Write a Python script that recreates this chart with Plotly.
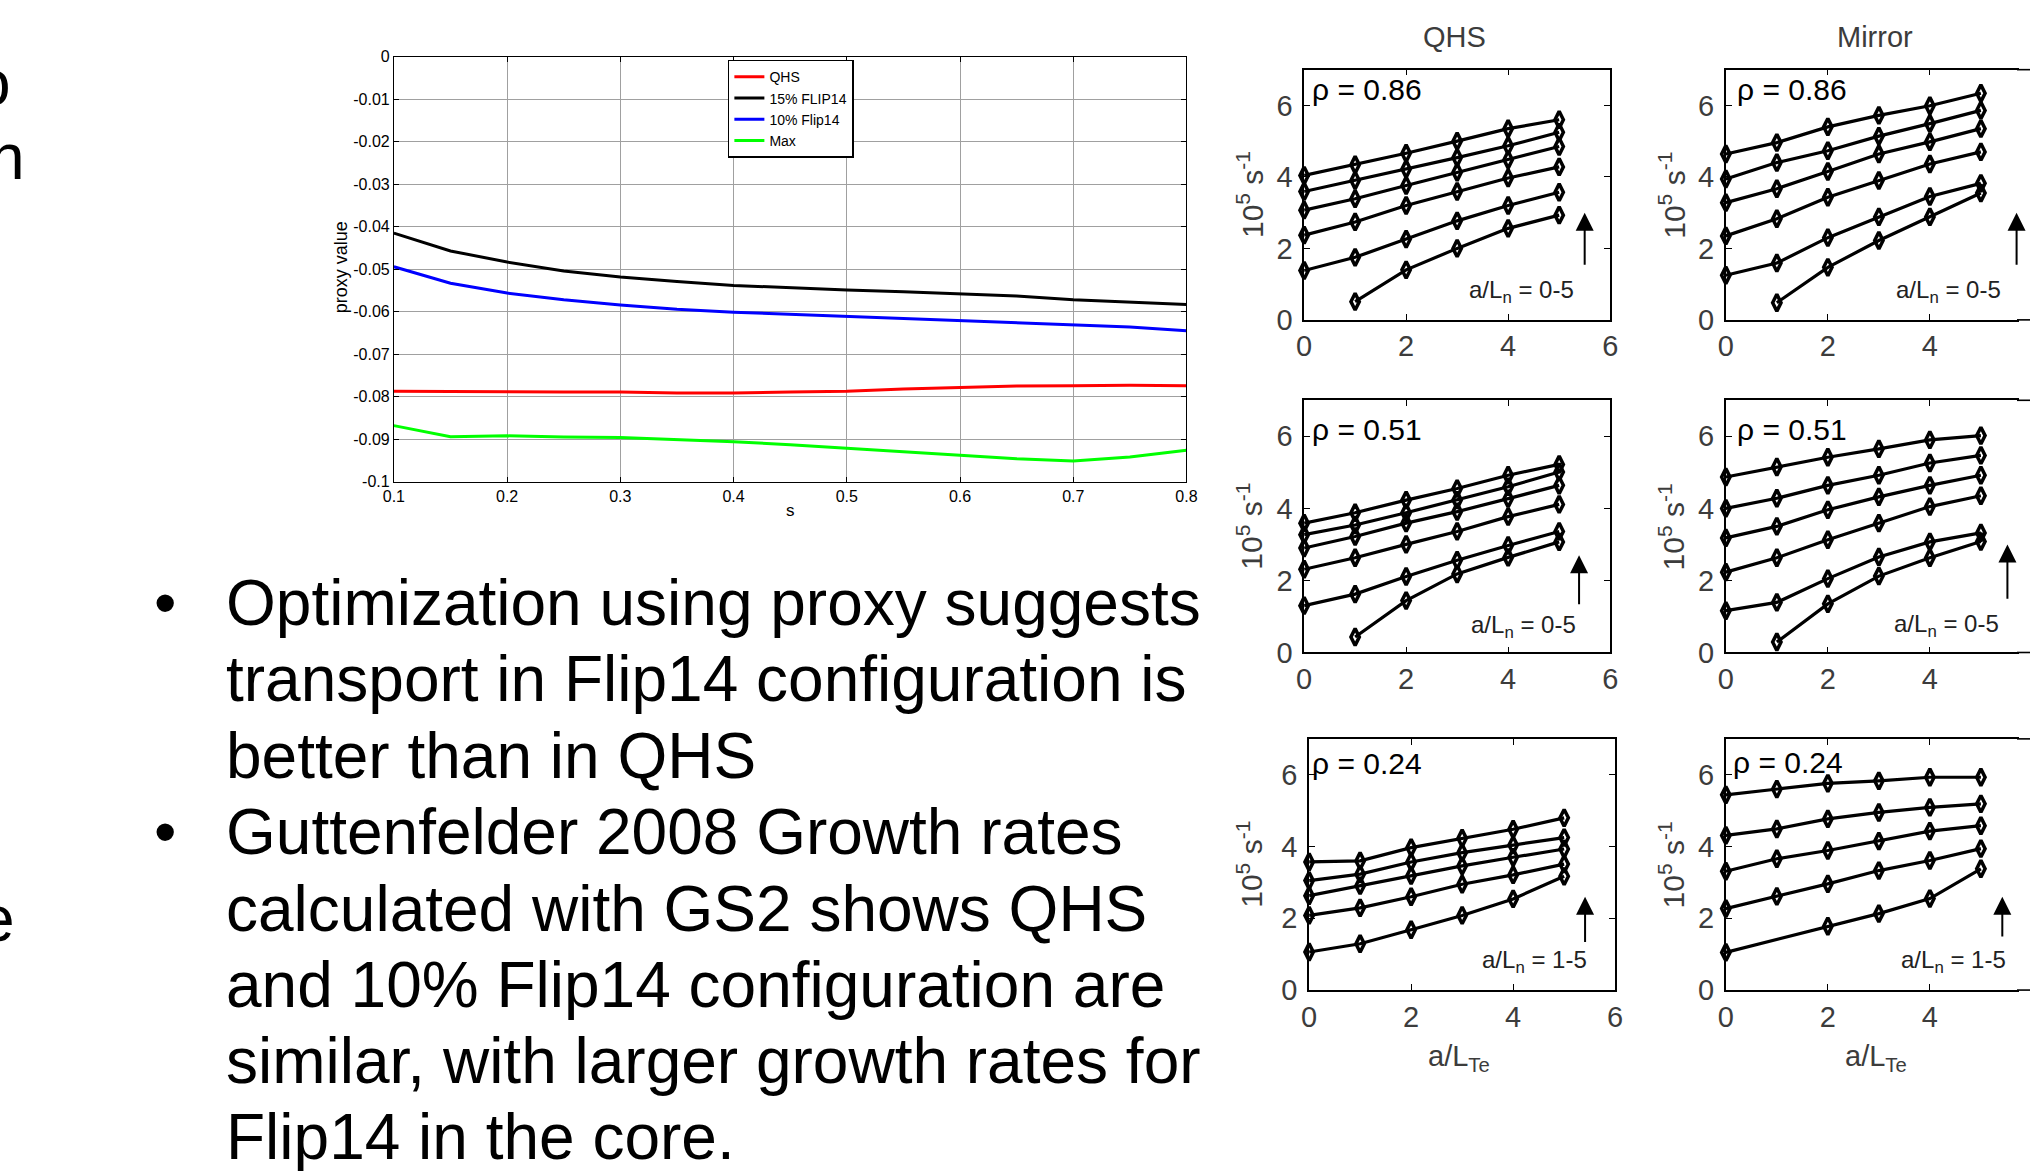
import plotly.graph_objects as go

W, H = 2030, 1171
BODY_MARGIN = 8
# page coordinates -> figure coordinates (page is laid out with the default body margin)
SX = W / (W + 2 * BODY_MARGIN)
SY = H / (H + 2 * BODY_MARGIN)
FONT = "Liberation Sans, Arial, sans-serif"

# ---- proxy value vs. s (left plot) ----
s_vals = [0.1, 0.15, 0.2, 0.25, 0.3, 0.35, 0.4, 0.45, 0.5, 0.55, 0.6, 0.65, 0.7, 0.75, 0.8]
proxy_qhs = [-0.0787, -0.0787, -0.0788, -0.0789, -0.0789, -0.0791, -0.0791, -0.0789,
             -0.0787, -0.0782, -0.0778, -0.0775, -0.0774, -0.0773, -0.0774]
proxy_flip15 = [-0.0415, -0.0457, -0.0483, -0.0504, -0.0518, -0.0529, -0.0538, -0.0544,
                -0.0549, -0.0553, -0.0558, -0.0563, -0.0572, -0.0577, -0.0583]
proxy_flip10 = [-0.0494, -0.0533, -0.0556, -0.0572, -0.0584, -0.0594, -0.0601, -0.0606,
                -0.0611, -0.0616, -0.0621, -0.0626, -0.0630, -0.0636, -0.0645]
proxy_max = [-0.0868, -0.0894, -0.0892, -0.0895, -0.0896, -0.0901, -0.0906, -0.0913,
             -0.0921, -0.0929, -0.0938, -0.0946, -0.0951, -0.0942, -0.0926]
proxy_names = ["QHS", "15% FLIP14", "10% Flip14", "Max"]
proxy_colors = ["#ff0000", "#000000", "#0000ff", "#00ff00"]
proxy_xticks = [0.1, 0.2, 0.3, 0.4, 0.5, 0.6, 0.7, 0.8]
proxy_xticktext = ["0.1", "0.2", "0.3", "0.4", "0.5", "0.6", "0.7", "0.8"]
proxy_yticks = [0, -0.01, -0.02, -0.03, -0.04, -0.05, -0.06, -0.07, -0.08, -0.09, -0.1]
proxy_yticktext = ["0", "-0.01", "-0.02", "-0.03", "-0.04", "-0.05", "-0.06",
                   "-0.07", "-0.08", "-0.09", "-0.1"]

# ---- growth rates (1e5 /s) vs a/L_Te, one row per a/L_n ----
a_LTe = [0, 1, 2, 3, 4, 5]
qhs_rho086 = [
    [None, 0.51, 1.40, 2.00, 2.56, 2.93],
    [1.38, 1.75, 2.26, 2.77, 3.20, 3.57],
    [2.37, 2.74, 3.20, 3.59, 3.97, 4.28],
    [3.07, 3.39, 3.76, 4.13, 4.48, 4.85],
    [3.59, 3.90, 4.22, 4.54, 4.87, 5.25],
    [4.04, 4.34, 4.66, 5.00, 5.35, 5.60],
]
mirror_rho086 = [
    [None, 0.48, 1.47, 2.22, 2.88, 3.55],
    [1.25, 1.59, 2.30, 2.88, 3.45, 3.82],
    [2.35, 2.83, 3.43, 3.90, 4.36, 4.70],
    [3.28, 3.67, 4.15, 4.64, 4.98, 5.35],
    [3.94, 4.40, 4.73, 5.14, 5.49, 5.86],
    [4.64, 4.96, 5.40, 5.72, 5.99, 6.34],
]
qhs_rho051 = [
    [None, 0.43, 1.44, 2.18, 2.64, 3.07],
    [1.30, 1.62, 2.11, 2.56, 2.97, 3.36],
    [2.31, 2.63, 3.00, 3.36, 3.77, 4.11],
    [2.90, 3.22, 3.59, 3.91, 4.27, 4.64],
    [3.27, 3.54, 3.88, 4.23, 4.60, 5.01],
    [3.59, 3.88, 4.23, 4.55, 4.92, 5.22],
]
mirror_rho051 = [
    [None, 0.29, 1.35, 2.12, 2.63, 3.08],
    [1.16, 1.39, 2.05, 2.65, 3.07, 3.32],
    [2.23, 2.63, 3.13, 3.59, 4.05, 4.35],
    [3.18, 3.50, 3.96, 4.32, 4.64, 4.92],
    [4.00, 4.28, 4.64, 4.92, 5.26, 5.47],
    [4.87, 5.15, 5.42, 5.65, 5.90, 6.02],
]
qhs_rho024 = [
    [1.06, 1.29, 1.68, 2.08, 2.54, 3.17],
    [2.08, 2.29, 2.60, 2.95, 3.21, 3.51],
    [2.63, 2.91, 3.19, 3.46, 3.70, 3.93],
    [3.05, 3.23, 3.57, 3.83, 4.04, 4.25],
    [3.57, 3.60, 3.97, 4.23, 4.48, 4.80],
]
mirror_rho024 = [
    [1.05, None, 1.78, 2.13, 2.55, 3.38],
    [2.27, 2.61, 2.96, 3.33, 3.61, 3.94],
    [3.31, 3.66, 3.89, 4.15, 4.43, 4.58],
    [4.31, 4.49, 4.77, 4.95, 5.09, 5.19],
    [5.44, 5.60, 5.76, 5.83, 5.93, 5.93],
]
panel_ticks = [0, 2, 4, 6]
column_titles = ["QHS", "Mirror"]
rho_labels = ["ρ = 0.86", "ρ = 0.51", "ρ = 0.24"]
ln_labels = ["a/L<sub>n</sub> = 0-5", "a/L<sub>n</sub> = 0-5", "a/L<sub>n</sub> = 1-5"]

bullet_lines = [
    ("•", "Optimization using proxy suggests"),
    ("", "transport in Flip14 configuration is"),
    ("", "better than in QHS"),
    ("•", "Guttenfelder 2008 Growth rates"),
    ("", "calculated with GS2 shows QHS"),
    ("", "and 10% Flip14 configuration are"),
    ("", "similar, with larger growth rates for"),
    ("", "Flip14 in the core."),
]


# page-pixel helpers -> paper fractions of the figure
def fx(px):
    return (px / SX - BODY_MARGIN) / W


def fy(py):
    return 1 - (py / SY - BODY_MARGIN) / H


def xdom(x0, x1):
    return [fx(x0), min(fx(x1), 1.0)]


def ydom(top, bottom):
    return [fy(bottom), fy(top)]


def paper_text(text, px, py, size, color="black", xanchor="center", angle=0):
    return dict(text=text, x=fx(px), y=fy(py), xref="paper", yref="paper",
                showarrow=False, xanchor=xanchor, yanchor="middle", textangle=angle,
                font=dict(size=size, family=FONT, color=color))


fig = go.Figure()
annotations = []
shapes = []

# left plot: proxy curves
for name, col, vals in zip(proxy_names, proxy_colors,
                           [proxy_qhs, proxy_flip15, proxy_flip10, proxy_max]):
    fig.add_trace(go.Scatter(x=s_vals, y=vals, mode="lines", name=name,
                             line=dict(color=col, width=3), xaxis="x", yaxis="y"))

layout = dict(
    width=W, height=H, margin=dict(l=0, r=0, t=0, b=0),
    paper_bgcolor="white", plot_bgcolor="white",
    font=dict(family=FONT, color="black"),
    showlegend=True,
    legend=dict(x=fx(727), y=fy(60), xanchor="left", yanchor="top",
                bgcolor="white", bordercolor="black", borderwidth=1.5,
                font=dict(size=14, family=FONT), itemwidth=30, tracegroupgap=0),
    xaxis=dict(domain=xdom(392, 1187), anchor="y", range=[0.1, 0.8],
               tickvals=proxy_xticks, ticktext=proxy_xticktext,
               showgrid=True, gridcolor="#a0a0a0", gridwidth=1, zeroline=False,
               showline=True, linecolor="black", linewidth=1, mirror="ticks",
               ticks="inside", ticklen=5, tickcolor="black",
               tickfont=dict(size=16, family=FONT)),
    yaxis=dict(domain=ydom(57, 485), anchor="x", range=[-0.1, 0],
               tickvals=proxy_yticks, ticktext=proxy_yticktext,
               showgrid=True, gridcolor="#a0a0a0", gridwidth=1, zeroline=False,
               showline=True, linecolor="black", linewidth=1, mirror="ticks",
               ticks="inside", ticklen=5, tickcolor="black",
               tickfont=dict(size=16, family=FONT)),
)

annotations.append(paper_text("s", 790, 514, 17))
annotations.append(paper_text("proxy value", 339, 269, 18, angle=-90))

# small growth-rate panels: (data, x pixels, y pixels, is mirror column)
panels = [
    (qhs_rho086, (1305, 1612), (70, 322), False),
    (mirror_rho086, (1728, 2035), (70, 322), True),
    (qhs_rho051, (1305, 1612), (403, 657), False),
    (mirror_rho051, (1728, 2035), (403, 657), True),
    (qhs_rho024, (1310, 1617), (744, 997), False),
    (mirror_rho024, (1728, 2035), (744, 997), True),
]
arrow_specs = [(5.5, 1.5, 3.0), (5.7, 1.5, 3.0), (5.39, 1.3, 2.7),
               (5.52, 1.45, 3.0), (5.41, 1.3, 2.6), (5.42, 1.45, 2.6)]
ln_pos = [(4.26, 0.8), (4.36, 0.78), (4.3, 0.72), (4.33, 0.74), (4.41, 0.8), (4.46, 0.8)]
rho_pos = [(0.12, 6.45), (0.18, 6.45), (0.12, 6.2), (0.18, 6.2), (0.02, 6.3), (0.1, 6.33)]
tick_font = dict(size=29, family=FONT, color="#3c3c3c")
XMAX = 6
RIGHT_EDGE = SX * (W + BODY_MARGIN)  # last page pixel the figure covers

for i, (rows, (px0, px1), (py0, py1), is_mirror) in enumerate(panels):
    n = i + 2
    xa, ya = f"x{n}", f"y{n}"
    unit = (px1 - px0) / XMAX
    visible = min(px1, RIGHT_EDGE) - px0
    for vals in rows:
        fig.add_trace(go.Scatter(
            x=a_LTe, y=vals, mode="lines+markers", connectgaps=True, showlegend=False,
            cliponaxis=False, xaxis=xa, yaxis=ya,
            line=dict(color="black", width=3.2),
            marker=dict(symbol="diamond-tall-open", size=12, color="black",
                        line=dict(width=3.5, color="black"))))
    ydomain = ydom(py0, py1)
    layout[f"xaxis{n}"] = dict(
        domain=xdom(px0, px0 + visible), anchor=ya, range=[0, visible / unit],
        tickvals=panel_ticks, showgrid=False, zeroline=False,
        showline=True, linecolor="black", linewidth=1.6, mirror="ticks",
        ticks="inside", ticklen=6, tickcolor="black", tickfont=tick_font,
        ticklabelstandoff=0)
    layout[f"yaxis{n}"] = dict(
        domain=ydomain, anchor=xa, range=[0, 7],
        tickvals=panel_ticks, showgrid=False, zeroline=False,
        showline=True, linecolor="black", linewidth=1.6,
        mirror=False if is_mirror else "ticks",
        ticks="inside", ticklen=6, tickcolor="black", tickfont=tick_font,
        ticklabelstandoff=4)
    if is_mirror:
        # frame lines of the right column run on past the figure edge
        for yv in ydomain:
            shapes.append(dict(type="line", xref="paper", yref="paper",
                               x0=0.999, x1=fx(px1), y0=yv, y1=yv,
                               line=dict(color="black", width=1.6)))
    row = i // 2
    # rho label
    rx, ry = rho_pos[i]
    annotations.append(dict(text=rho_labels[row], x=rx, y=ry, xref=xa, yref=ya,
                            xanchor="left", yanchor="middle", showarrow=False,
                            font=dict(size=30, family=FONT, color="black")))
    # a/L_n range label and arrow
    lx, ly = ln_pos[i]
    annotations.append(dict(text=ln_labels[row], x=lx, y=ly, xref=xa, yref=ya,
                            xanchor="center", yanchor="middle", showarrow=False,
                            font=dict(size=24, family=FONT, color="#222222")))
    ax_, y0, y1 = arrow_specs[i]
    annotations.append(dict(text="", x=ax_, y=y1, ax=ax_, ay=y0, xref=xa, yref=ya,
                            axref=xa, ayref=ya, showarrow=True, arrowhead=2,
                            arrowsize=1.8, arrowwidth=2, arrowcolor="black",
                            standoff=0, startstandoff=0))
    # y axis title
    ytx = 1251 if not is_mirror else 1674
    annotations.append(paper_text("10<sup>5</sup> s<sup>-1</sup>", ytx, (py0 + py1) / 2,
                                  30, color="#3c3c3c", angle=-90))

# column titles
for title, cx in zip(column_titles, [1456, 1878]):
    annotations.append(paper_text(title, cx, 37, 29, color="#3c3c3c"))
# bottom x-axis titles
for cx in [1460, 1879]:
    annotations.append(paper_text("a/L<sub>Te</sub>", cx, 1065, 29, color="#3c3c3c"))

# bullet text
line_y = [607, 684, 761, 838, 915, 992, 1068, 1145]
for (bullet, text), yc in zip(bullet_lines, line_y):
    if bullet:
        annotations.append(paper_text(bullet, 162, yc, 64))
    annotations.append(paper_text(text, 222, yc, 64, xanchor="left"))

# text from the neighbouring column running off the left edge
for ch, xl, yc in [("o", -30, 83), ("n", -16, 158), ("e", -26, 925)]:
    annotations.append(paper_text(ch, xl, yc, 64, xanchor="left"))

layout["annotations"] = annotations
layout["shapes"] = shapes
fig.update_layout(**layout)
fig.write_html("out.html")
